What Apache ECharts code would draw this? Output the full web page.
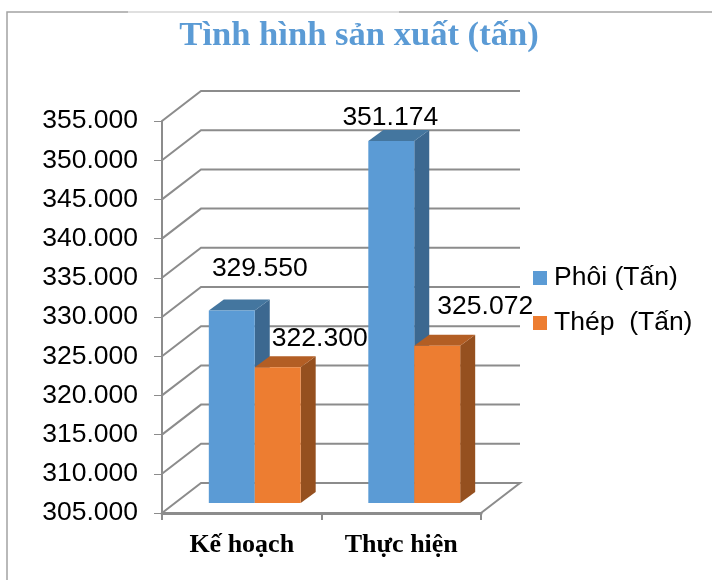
<!DOCTYPE html>
<html><head><meta charset="utf-8">
<style>html,body{margin:0;padding:0;background:#fff}#c{width:712px;height:580px}</style>
<script src="https://cdn.jsdelivr.net/npm/echarts@6/dist/echarts.min.js"></script>
</head><body><div id="c"></div>
<script>
const titleText = 'Tình hình sản xuất (tấn)';
const categories = ['Kế hoạch', 'Thực hiện'];
const seriesNames = ['Phôi (Tấn)', 'Thép  (Tấn)'];
const phoiValues = [329550, 351174];
const thepValues = [322300, 325072];
const yTicks = [305000, 310000, 315000, 320000, 325000, 330000, 335000, 340000, 345000, 350000, 355000];

const fmt = v => (v / 1000).toFixed(3);
const GRID = '#8c8c8c';
const WALL = [39, -30], BAR_SHIFT = [13, -10], BAR_DEPTH = [15, -11];
const BAR_FRAC = 0.288;
const labelOffsets = [
  [[28, -42], [-1, -23]],
  [[42, -29], [48, -39]]
];
const palette = [
  { front: '#5b9bd5', top: '#44769f', side: '#3c6890' },
  { front: '#ed7d31', top: '#b35e24', side: '#95501f' }
];

function wallItem(params, api) {
  const cs = params.coordSys;
  const y = api.coord([0, api.value(1)])[1];
  const x0 = cs.x, x1 = cs.x + cs.width;
  const pts = [[x0, y], [x0 + WALL[0], y + WALL[1]], [x1 + WALL[0], y + WALL[1]]];
  if (params.dataIndex === 0) pts.push([x1, y]);
  return {
    type: 'polyline',
    shape: { points: pts },
    style: { fill: null, stroke: GRID, lineWidth: 2 }
  };
}

function barItem(sIdx) {
  return function (params, api) {
    const cat = api.value(0), val = api.value(1);
    const band = api.size([1, 0])[0];
    const w = band * BAR_FRAC;
    const cx = api.coord([cat, val])[0];
    const left = cx + (sIdx === 0 ? -w : 0) + BAR_SHIFT[0];
    const right = left + w;
    const top = api.coord([cat, val])[1] + BAR_SHIFT[1];
    const base = api.coord([cat, yTicks[0]])[1] + BAR_SHIFT[1];
    const dx = BAR_DEPTH[0], dy = BAR_DEPTH[1];
    const c = palette[sIdx];
    const off = labelOffsets[sIdx][params.dataIndex];
    return {
      type: 'group',
      children: [
        { type: 'polygon', shape: { points: [[right, top], [right + dx, top + dy], [right + dx, base + dy], [right, base]] }, style: { fill: c.side } },
        { type: 'polygon', shape: { points: [[left, top], [left + dx, top + dy], [right + dx, top + dy], [right, top]] }, style: { fill: c.top } },
        { type: 'rect', shape: { x: left, y: top, width: w, height: base - top }, style: { fill: c.front } },
        { type: 'text', z2: 50, style: {
            x: (left + right) / 2 + off[0], y: top + off[1], text: fmt(val),
            align: 'center', verticalAlign: 'middle',
            font: '26.5px "Liberation Sans"', fill: '#000' } }
      ]
    };
  };
}

const chart = echarts.init(document.getElementById('c'), null, { renderer: 'canvas' });
chart.setOption({
  animation: false,
  backgroundColor: '#fff',
  title: {
    text: titleText, left: 354, top: 14, textAlign: 'center',
    textStyle: { fontFamily: 'Liberation Serif', fontWeight: 'bold', fontSize: 34.6, color: '#5b9bd5' }
  },
  legend: {
    data: seriesNames, orient: 'vertical', left: 533, top: 263, icon: 'rect',
    itemWidth: 14, itemHeight: 14, itemGap: 15, padding: 0,
    textStyle: { fontFamily: 'Liberation Sans', fontSize: 26.5, color: '#000', padding: [0, 0, 0, 2], lineHeight: 30 }
  },
  grid: { left: 162, top: 121, width: 319, height: 392, containLabel: false },
  xAxis: {
    type: 'category', data: categories,
    axisLine: { lineStyle: { color: GRID, width: 3 } },
    axisTick: { show: true, length: 7, lineStyle: { color: GRID, width: 2 } },
    axisLabel: { margin: 19, fontFamily: 'Liberation Serif', fontWeight: 'bold', fontSize: 26, color: '#000' }
  },
  yAxis: {
    type: 'value', min: 305000, max: 355000, interval: 5000,
    axisLine: { show: true, lineStyle: { color: GRID, width: 2 } },
    axisTick: { show: true, length: 8, lineStyle: { color: GRID, width: 1 } },
    splitLine: { show: false },
    axisLabel: { margin: 24, padding: [5, 0, 0, 0], formatter: fmt, fontFamily: 'Liberation Sans', fontSize: 26.5, color: '#000' }
  },
  series: [
    { type: 'custom', name: 'walls', silent: true, clip: false, z: 1, renderItem: wallItem,
      encode: { x: 0, y: 1 }, data: yTicks.map(v => [0, v]) },
    { type: 'custom', name: seriesNames[0], clip: false, z: 2, renderItem: barItem(0),
      itemStyle: { color: palette[0].front }, encode: { x: 0, y: 1 },
      data: phoiValues.map((v, i) => [i, v]) },
    { type: 'custom', name: seriesNames[1], clip: false, z: 3, renderItem: barItem(1),
      itemStyle: { color: palette[1].front }, encode: { x: 0, y: 1 },
      data: thepValues.map((v, i) => [i, v]) }
  ],
  graphic: [
    { type: 'polyline', silent: true, shape: { points: [[7, 580], [7, 12], [128, 12]] }, style: { fill: null, stroke: '#a3a3a3', lineWidth: 1.5 } },
    { type: 'line', silent: true, shape: { x1: 128, y1: 12, x2: 399, y2: 12 }, style: { stroke: '#d6d6d6', lineWidth: 1.5 } },
    { type: 'line', silent: true, shape: { x1: 399, y1: 12, x2: 712, y2: 12 }, style: { stroke: '#a3a3a3', lineWidth: 1.5 } }
  ]
});
</script></body></html>
